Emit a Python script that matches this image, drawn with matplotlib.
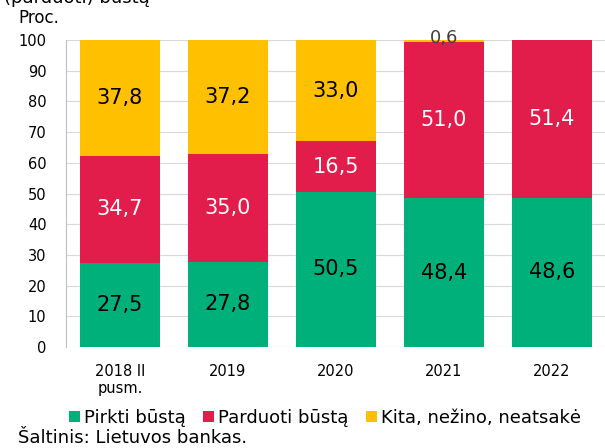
import matplotlib.pyplot as plt
import numpy as np

categories = ["2018 II\npusm.", "2019", "2020", "2021", "2022"]
pirkti = [27.5, 27.8, 50.5, 48.4, 48.6]
parduoti = [34.7, 35.0, 16.5, 51.0, 51.4]
kita = [37.8, 37.2, 33.0, 0.6, 0.0]
series_names = ["Pirkti būstą", "Parduoti būstą", "Kita, nežino, neatsakė"]
colors = ["#00B07B", "#E31D4B", "#FFC000"]
label_colors = ["black", "white", "black"]

plt.rcParams['font.family'] = ['DejaVu Sans']

fig = plt.figure(figsize=(6.05, 4.48), dpi=100)
ax = fig.add_axes([66 / 605, 1 - 347 / 448, 540 / 605, 307 / 448])

x = np.arange(len(categories))
bottom = np.zeros(len(categories))
for vals, name, col, lc in zip([pirkti, parduoti, kita], series_names, colors, label_colors):
    vals = np.array(vals)
    ax.bar(x, vals, 0.74, bottom=bottom, color=col, label=name)
    for xi, b, v in zip(x, bottom, vals):
        if v >= 5:
            ax.text(xi, b + v / 2, f"{v:.1f}".replace(".", ","), ha="center", va="center",
                    fontsize=15, color=lc)
        elif v > 0:
            ax.text(xi, b + v + 0.5, f"{v:.1f}".replace(".", ","), ha="center", va="center",
                    fontsize=13, color="#404040")
    bottom += vals

ax.set_xlim(-0.5, 4.5)
ax.set_ylim(0, 100)
ax.set_yticks(range(0, 101, 10))
ax.set_xticks(x)
ax.set_xticklabels(categories, fontsize=10.5)
ax.tick_params(axis="y", labelsize=10.5, length=0, pad=14)
ax.tick_params(axis="x", length=0, pad=12)
ax.yaxis.grid(True, color="#D9D9D9", linewidth=0.8)
ax.set_axisbelow(True)
for s in ["top", "right", "bottom"]:
    ax.spines[s].set_visible(False)
ax.spines["left"].set_color("#BFBFBF")

fig.text(18 / 605, 1 - 18 / 448, "Proc.", fontsize=12, va="center")
fig.text(4 / 605, 1 + 2 / 448, "(parduoti) būstą", fontsize=13, va="center")

handles, labels = ax.get_legend_handles_labels()
fig.legend(handles, labels, loc="center", bbox_to_anchor=(325 / 605, 1 - 418 / 448), ncol=3,
           frameon=False, fontsize=13, handlelength=0.6, handleheight=0.6,
           handletextpad=0.2, columnspacing=1.0)
fig.text(18 / 605, 1 - 438 / 448, "Šaltinis: Lietuvos bankas.", fontsize=13, va="center")

fig.savefig("out.png", dpi=100)
